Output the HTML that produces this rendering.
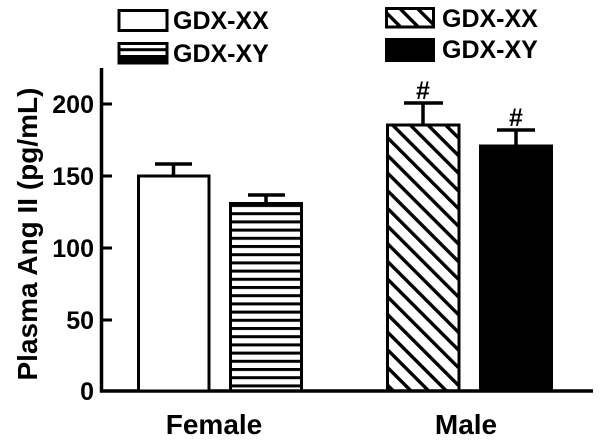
<!DOCTYPE html>
<html><head><meta charset="utf-8"><style>
html,body{margin:0;padding:0;background:#fff;}
svg{display:block;}
text{font-family:"Liberation Sans",Arial,sans-serif;font-weight:bold;fill:#000;}
</style></head><body>
<svg width="600" height="443" viewBox="0 0 600 443" xmlns="http://www.w3.org/2000/svg">
<defs>
<pattern id="hs" patternUnits="userSpaceOnUse" width="10" height="8.2" y="204">
<rect x="0" y="0" width="10" height="3" fill="#000"/>
</pattern>
<pattern id="dg" patternUnits="userSpaceOnUse" width="12.5" height="12.5" patternTransform="rotate(-45)">
<rect x="0" y="0" width="3.4" height="12.5" fill="#000"/>
</pattern>
</defs>
<!-- legend left -->
<rect x="119" y="10.5" width="48" height="20" fill="#fff" stroke="#000" stroke-width="3"/>
<text x="173" y="29" font-size="25">GDX-XX</text>
<rect x="119" y="43.5" width="48" height="19.5" fill="url(#hs)" stroke="#000" stroke-width="3"/>
<rect x="119" y="55" width="48" height="8" fill="#000"/>
<text x="173" y="62" font-size="25">GDX-XY</text>
<!-- legend right -->
<rect x="386.5" y="8.5" width="47" height="18.5" fill="url(#dg)" stroke="#000" stroke-width="3"/>
<text x="442" y="27" font-size="25">GDX-XX</text>
<rect x="385" y="38" width="50" height="24" fill="#000"/>
<text x="442" y="58" font-size="25">GDX-XY</text>
<!-- axes -->
<line x1="101.5" y1="68" x2="101.5" y2="392.5" stroke="#000" stroke-width="3.5"/>
<line x1="100" y1="391" x2="593" y2="391" stroke="#000" stroke-width="3.5"/>
<g stroke="#000" stroke-width="3">
<line x1="102" y1="104" x2="112" y2="104"/>
<line x1="102" y1="176" x2="112" y2="176"/>
<line x1="102" y1="248" x2="112" y2="248"/>
<line x1="102" y1="320" x2="112" y2="320"/>
</g>
<g font-size="25" text-anchor="end">
<text x="94" y="113">200</text>
<text x="94" y="185">150</text>
<text x="94" y="257">100</text>
<text x="94" y="329">50</text>
<text x="94" y="400">0</text>
</g>
<text transform="translate(37,234) rotate(-90)" font-size="28" text-anchor="middle">Plasma Ang II (pg/mL)</text>
<text x="214" y="434" font-size="28" text-anchor="middle">Female</text>
<text x="466" y="434" font-size="28" text-anchor="middle">Male</text>
<!-- error bars -->
<g stroke="#000" stroke-width="3.5">
<line x1="173.5" y1="164" x2="173.5" y2="176"/><line x1="155" y1="164" x2="192" y2="164"/>
<line x1="266" y1="195" x2="266" y2="203"/><line x1="248" y1="195" x2="285" y2="195"/>
<line x1="423" y1="103" x2="423" y2="124"/><line x1="404" y1="103" x2="443" y2="103"/>
<line x1="516" y1="130" x2="516" y2="145"/><line x1="497" y1="130" x2="535" y2="130"/>
</g>
<!-- bars -->
<rect x="138.5" y="176" width="70.5" height="215" fill="#fff" stroke="#000" stroke-width="3"/>
<rect x="230.5" y="203.5" width="71" height="187.5" fill="url(#hs)" stroke="#000" stroke-width="3"/>
<rect x="387.5" y="125" width="71.5" height="266" fill="url(#dg)" stroke="#000" stroke-width="3"/>
<rect x="479" y="144.5" width="74" height="246.5" fill="#000"/>
<text x="423" y="99" font-size="25" text-anchor="middle">#</text>
<text x="516" y="126" font-size="25" text-anchor="middle">#</text>
</svg>
</body></html>
